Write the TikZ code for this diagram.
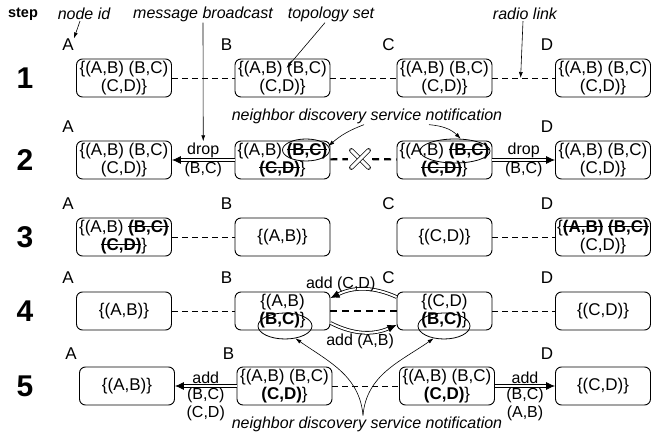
\documentclass[tikz,border=0pt]{standalone}
\usepackage{fontspec}
\setmainfont{Liberation Sans}
\usetikzlibrary{arrows.meta,shapes.geometric,calc}

\newsavebox{\gonebox}
\newcommand{\gone}[1]{\sbox{\gonebox}{\textbf{#1}}\rlap{\rule[0.3em]{\wd\gonebox}{1.1pt}}\usebox{\gonebox}}

\begin{document}
\begin{tikzpicture}[x=1pt,y=1pt,
  setbox/.style={draw,rounded corners=6pt,line width=0.9pt,minimum width=95pt,minimum height=38pt,inner sep=1pt,align=center,font=\fontsize{17}{18}\selectfont},
  idlab/.style={font=\fontsize{17}{17}\selectfont,inner sep=0pt},
  rownum/.style={font=\fontsize{30}{30}\selectfont\bfseries,inner sep=0pt},
  note/.style={font=\fontsize{16}{16}\selectfont\itshape,inner sep=1pt},
  radio/.style={line width=0.8pt,dash pattern=on 6pt off 4pt},
  lost/.style={line width=2.2pt,dash pattern=on 7pt off 5pt},
  point/.style={line width=0.6pt,-{Latex[length=6pt,width=4pt]}},
  msg/.style={double,double distance=2pt,line width=0.8pt,-{Latex[length=9pt,width=8pt]}},
  ring/.style={draw,ellipse,line width=0.8pt,inner sep=0pt},
  lab/.style={font=\fontsize{16}{18}\selectfont,inner sep=1.5pt,align=center}
]
\useasboundingbox (0,0) rectangle (651,436);

% header
\node[font=\fontsize{14.5}{15}\selectfont\bfseries] (hdstep) at (23,422) {step};
\node[note] (lblid) at (84,422) {node id};
\node[note] (lblmsg) at (203,422) {message broadcast};
\node[note] (lbltopo) at (331,422) {topology set};
\node[note] (lblradio) at (525,422) {radio link};

% step numbers
\node[rownum] (n1) at (25,358) {1};
\node[rownum] (n2) at (25,276) {2};
\node[rownum] (n3) at (25,199) {3};
\node[rownum] (n4) at (25,125) {4};
\node[rownum] (n5) at (25,50) {5};

% step 1
\node[setbox] (A1) at (124,358) {\{(A,B) (B,C)\\(C,D)\}};
\node[setbox] (B1) at (282.5,358) {\{(A,B) (B,C)\\(C,D)\}};
\node[setbox] (C1) at (444.5,358) {\{(A,B) (B,C)\\(C,D)\}};
\node[setbox] (D1) at (603,358) {\{(A,B) (B,C)\\(C,D)\}};
\node[idlab] (idA1) at ([shift={(-8,14)}]A1.north west) {A};
\node[idlab] (idB1) at ([shift={(-8,14)}]B1.north west) {B};
\node[idlab] (idC1) at ([shift={(-8,14)}]C1.north west) {C};
\node[idlab] (idD1) at ([shift={(-8,14)}]D1.north west) {D};
\draw[radio] (A1) -- (B1);
\draw[radio] (B1) -- (C1);
\draw[radio] (C1) -- (D1);

% step 2
\node[setbox] (A2) at (124,276) {\{(A,B) (B,C)\\(C,D)\}};
\node[setbox] (B2) at (282.5,276) {\{(A,B) \gone{(B,C)}\\\gone{(C,D)}\}};
\node[setbox] (C2) at (444.5,276) {\{(A,B) \gone{(B,C)}\\\gone{(C,D)}\}};
\node[setbox] (D2) at (603,276) {\{(A,B) (B,C)\\(C,D)\}};
\node[idlab] (idA2) at ([shift={(-8,14)}]A2.north west) {A};
\node[idlab] (idD2) at ([shift={(-8,14)}]D2.north west) {D};
\draw[msg] (B2) -- node[lab,above] (drop2l) {drop} node[lab,below] (bc2l) {(B,C)} (A2);
\draw[msg] (C2) -- node[lab,above] (drop2r) {drop} node[lab,below] (bc2r) {(B,C)} (D2);
\node[circle,minimum size=24pt,inner sep=0pt] (cut) at (360,277) {};
\draw[lost] (B2) -- (cut);
\draw[lost] (cut) -- (C2);
\draw[double,double distance=3pt,line width=0.7pt,line cap=round] (cut.north west) -- (cut.south east);
\draw[double,double distance=3pt,line width=0.7pt,line cap=round] (cut.south west) -- (cut.north east);
\node[ring,minimum width=47pt,minimum height=22pt] (ringB2) at (306,286) {};
\node[ring,minimum width=70pt,minimum height=24pt] (ringC2) at (455,285) {};
\node[note] (noteTop) at (367,320) {neighbor discovery service notification};
\draw[point] ([xshift=-3]noteTop.south) to[bend right=10] (ringB2.10);
\draw[point] ([xshift=62]noteTop.south) to[out=-5,in=135] (ringC2.65);

% step 3
\node[setbox] (A3) at (124,199) {\{(A,B) \gone{(B,C)}\\\gone{(C,D)}\}};
\node[setbox] (B3) at (282.5,199) {\{(A,B)\}};
\node[setbox] (C3) at (444.5,199) {\{(C,D)\}};
\node[setbox] (D3) at (603,199) {\{\gone{(A,B)} \gone{(B,C)}\\(C,D)\}};
\node[idlab] (idA3) at ([shift={(-8,14)}]A3.north west) {A};
\node[idlab] (idB3) at ([shift={(-8,14)}]B3.north west) {B};
\node[idlab] (idC3) at ([shift={(-8,14)}]C3.north west) {C};
\node[idlab] (idD3) at ([shift={(-8,14)}]D3.north west) {D};
\draw[radio] (A3) -- (B3);
\draw[radio] (C3) -- (D3);

% step 4
\node[setbox] (A4) at (124,125) {\{(A,B)\}};
\node[setbox] (B4) at (282.5,125) {\{(A,B)\\\textbf{(B,C)}\}};
\node[setbox] (C4) at (444.5,125) {\{(C,D)\\\textbf{(B,C)}\}};
\node[setbox] (D4) at (603,125) {\{(C,D)\}};
\node[idlab] (idA4) at ([shift={(-8,14)}]A4.north west) {A};
\node[idlab] (idB4) at ([shift={(-8,14)}]B4.north west) {B};
\node[idlab] (idC4) at ([shift={(-8,14)}]C4.north west) {C};
\node[idlab] (idD4) at ([shift={(-8,14)}]D4.north west) {D};
\draw[radio] (A4) -- (B4);
\draw[lost] (B4) -- (C4);
\draw[radio] (C4) -- (D4);
\draw[msg] ([yshift=14]C4.west) to[bend right=25] node[lab,pos=0.85,above] (addCD4) {add (C,D)} ([yshift=13]B4.east);
\draw[msg] ([yshift=-12]B4.east) to[bend right=25] node[lab,pos=0.45,below] (addAB4) {add (A,B)} ([yshift=-14]C4.west);
\node[ring,minimum width=54pt,minimum height=26pt] (ringB4) at (285,110) {};
\node[ring,minimum width=52pt,minimum height=26pt] (ringC4) at (444,110) {};

% step 5
\node[setbox] (A5) at (127,50) {\{(A,B)\}};
\node[setbox] (B5) at (284.5,50) {\{(A,B) (B,C)\\\textbf{(C,D)}\}};
\node[setbox] (C5) at (447,50) {\{(A,B) (B,C)\\\textbf{(C,D)}\}};
\node[setbox] (D5) at (603,50) {\{(C,D)\}};
\node[idlab] (idA5) at ([shift={(-8,13)}]A5.north west) {A};
\node[idlab] (idB5) at ([shift={(-8,13)}]B5.north west) {B};
\node[idlab] (idD5) at ([shift={(-8,13)}]D5.north west) {D};
\draw[msg] (B5) -- node[lab,above] (add5l) {add} node[lab,below] (set5l) {(B,C)\\(C,D)} (A5);
\draw[radio] (B5) -- (C5);
\draw[msg] (C5) -- node[lab,above] (add5r) {add} node[lab,below] (set5r) {(B,C)\\(A,B)} (D5);
\node[note] (noteBot) at (367,12) {neighbor discovery service notification};
\draw[point] ([xshift=-4]noteBot.north) to[out=95,in=-35] (ringB4.-50);
\draw[point] ([xshift=-4]noteBot.north) to[out=85,in=215] (ringC4.230);

% header pointers
\coordinate (topoPt) at ([shift={(4,10)}]B1.center);
\coordinate (radioPt) at ($(C1.east)!0.45!(D1.west)$);
\draw[point] ([xshift=-4]lblid.south) -- (idA1.north east);
\draw[point] (lblmsg.south) -- (drop2l.north);
\draw[point] ([xshift=-6]lbltopo.south) -- (topoPt);
\draw[point] ([xshift=-2]lblradio.south) -- (radioPt);
\end{tikzpicture}
\end{document}
